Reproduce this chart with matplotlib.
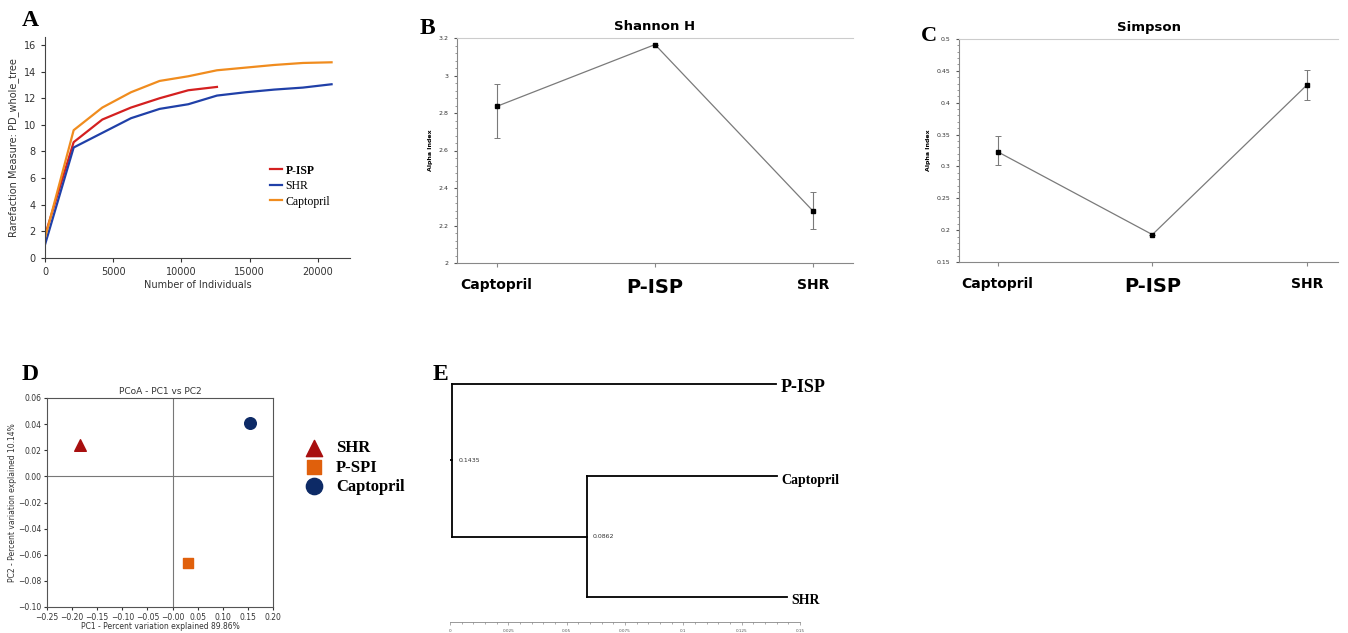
import numpy as np
import matplotlib
matplotlib.use("Agg")
import matplotlib.pyplot as plt
from matplotlib.ticker import MultipleLocator, AutoMinorLocator, FuncFormatter

W, H = 1348, 633

# ----------------- DATA -----------------
# A: rarefaction curves (PD_whole_tree)
rare_x_long = [0, 2100, 4200, 6300, 8400, 10500, 12600, 14700, 16800, 18900, 21000]
rare_x_pisp = [0, 2100, 4200, 6300, 8400, 10500, 12600]
rare_captopril = [1.5, 9.6, 11.3, 12.45, 13.3, 13.65, 14.1, 14.3, 14.5, 14.65, 14.7]
rare_pisp = [1.7, 8.7, 10.4, 11.3, 12.0, 12.6, 12.85]
rare_shr = [1.0, 8.3, 9.4, 10.5, 11.2, 11.55, 12.2, 12.45, 12.65, 12.8, 13.05]

# B / C: alpha diversity
groups = ["Captopril", "P-ISP", "SHR"]
shannon = [2.835, 3.165, 2.275]
shannon_lo = [2.665, 3.165, 2.18]
shannon_hi = [2.955, 3.165, 2.38]
simpson = [0.323, 0.193, 0.428]
simpson_lo = [0.302, 0.193, 0.405]
simpson_hi = [0.347, 0.193, 0.451]

# D: PCoA
pcoa_labels = ["SHR", "P-SPI", "Captopril"]
pc1 = [-0.185, 0.03, 0.155]
pc2 = [0.024, -0.066, 0.041]

# E: dendrogram (x = distance, y = leaf order)
leaves = ["P-ISP", "Captopril", "SHR"]
leaf_x = [0.1395, 0.1400, 0.1444]
leaf_y = [3.0, 1.7, 0.0]
node_x = 0.0587
root_x = 0.0010
root_label = "0.1435"
node_label = "0.0862"


def px(l, t, r, b):
    return [l / W, 1 - b / H, (r - l) / W, (b - t) / H]


fig = plt.figure(figsize=(W / 100, H / 100), dpi=100)
serif = "Liberation Serif"
gfmt = FuncFormatter(lambda v, p: "%g" % round(v, 4))
mfmt = FuncFormatter(lambda v, p: ("%.2f" % v).replace("-", "\u2212"))

# ----------------- A -----------------
axA = fig.add_axes(px(45, 37, 350, 258))
axA.plot(rare_x_pisp, rare_pisp, color="#d42020", lw=1.6, label="P-ISP")
axA.plot(rare_x_long, rare_shr, color="#2040a8", lw=1.6, label="SHR")
axA.plot(rare_x_long, rare_captopril, color="#f08c1e", lw=1.6, label="Captopril")
axA.set_xlim(0, 22350)
axA.set_ylim(0, 16.6)
axA.set_yticks(range(0, 17, 2))
axA.set_xticks([0, 5000, 10000, 15000, 20000])
for s in ["top", "right"]:
    axA.spines[s].set_visible(False)
for s in ["left", "bottom"]:
    axA.spines[s].set_color("#444444")
axA.tick_params(labelsize=7, colors="#333333", length=3)
axA.set_xlabel("Number of Individuals", fontsize=7, color="#333333", labelpad=2)
axA.set_ylabel("Rarefaction Measure: PD_whole_tree", fontsize=7, color="#333333", labelpad=3)
legA = axA.legend(loc="lower right", bbox_to_anchor=(0.97, 0.18), frameon=False,
                  prop={"family": serif, "size": 8.5}, handlelength=1.0,
                  handletextpad=0.3, labelspacing=0.3)
legA.get_texts()[0].set_fontweight("bold")
fig.text(22 / W, 1 - 20 / H, "A", fontsize=17, fontweight="bold", family=serif, va="center")


# ----------------- B / C -----------------
def alpha_panel(box, vals, lo, hi, ylim, step, title, xr):
    ax = fig.add_axes(px(*box))
    x = np.arange(len(groups))
    yerr = [np.array(vals) - np.array(lo), np.array(hi) - np.array(vals)]
    ax.errorbar(x, vals, yerr=yerr, color="#7a7a7a", lw=0.9, ecolor="#7a7a7a",
                elinewidth=0.8, capsize=2, capthick=0.7, marker="s", ms=3.5,
                mfc="black", mec="black")
    ax.set_xlim(-0.25, xr)
    ax.set_ylim(*ylim)
    ax.yaxis.set_major_locator(MultipleLocator(step))
    ax.yaxis.set_minor_locator(AutoMinorLocator(5))
    ax.yaxis.set_major_formatter(gfmt)
    ax.set_xticks(x)
    ax.set_xticklabels(groups)
    ax.spines["right"].set_visible(False)
    ax.spines["top"].set_color("#cccccc")
    ax.spines["left"].set_color("#888888")
    ax.spines["bottom"].set_color("#888888")
    ax.tick_params(axis="y", labelsize=4.5, length=2.5, colors="#555555", labelcolor="#333333")
    ax.tick_params(axis="y", which="minor", length=1.5, colors="#888888")
    ax.tick_params(axis="x", length=3, colors="#888888", labelcolor="black", pad=8)
    labs = ax.get_xticklabels()
    for t in labs:
        t.set_fontweight("bold")
        t.set_fontsize(10)
    labs[1].set_fontsize(14)
    ax.set_ylabel("Alpha Index", fontsize=4.5, fontweight="bold", labelpad=4)
    ax.set_title(title, fontsize=9.5, fontweight="bold", pad=6)
    return ax


axB = alpha_panel((457, 38, 853, 263), shannon, shannon_lo, shannon_hi, (2.0, 3.2), 0.2,
                  "Shannon H", 2.25)
axC = alpha_panel((959, 39, 1338, 262), simpson, simpson_lo, simpson_hi, (0.15, 0.5), 0.05,
                  "Simpson", 2.2)
fig.text(420 / W, 1 - 28 / H, "B", fontsize=17, fontweight="bold", family=serif, va="center")
fig.text(921 / W, 1 - 36 / H, "C", fontsize=16, fontweight="bold", family=serif, va="center")

# ----------------- D -----------------
axD = fig.add_axes(px(47, 398, 273, 607))
colorsD = ["#a80f0f", "#e0600c", "#0d2a66"]
markersD = ["^", "s", "o"]
for lab, x, y, c, m in zip(pcoa_labels, pc1, pc2, colorsD, markersD):
    axD.scatter([x], [y], color=c, marker=m, s=70 if m != "s" else 45, label=lab, zorder=3)
axD.axhline(0, color="#777777", lw=0.8)
axD.axvline(0, color="#777777", lw=0.8)
axD.set_xlim(-0.25, 0.2)
axD.set_ylim(-0.10, 0.06)
axD.set_xticks(np.arange(-0.25, 0.21, 0.05))
axD.set_yticks(np.arange(-0.10, 0.061, 0.02))
axD.xaxis.set_major_formatter(mfmt)
axD.yaxis.set_major_formatter(mfmt)
for s in axD.spines.values():
    s.set_color("#555555")
axD.tick_params(labelsize=5.5, colors="#333333", length=2.5, pad=1.5)
axD.set_title("PCoA - PC1 vs PC2", fontsize=6.5, color="#333333", pad=3)
axD.set_xlabel("PC1 - Percent variation explained 89.86%", fontsize=5.5, color="#333333", labelpad=0.5)
axD.set_ylabel("PC2 - Percent variation explained 10.14%", fontsize=5.5, color="#333333", labelpad=1)
axD.legend(loc="upper left", bbox_to_anchor=(1.08, 0.83), frameon=False,
           prop={"family": serif, "size": 12, "weight": "bold"}, markerscale=1.4,
           handletextpad=0.3, labelspacing=0.2, scatterpoints=1, borderaxespad=0)
fig.text(22 / W, 1 - 375 / H, "D", fontsize=17, fontweight="bold", family=serif, va="center")

# ----------------- E -----------------
axE = fig.add_axes(px(450, 375, 800, 622))
kw = dict(color="black", lw=1.3, solid_capstyle="projecting")
# root vertical + branches
axE.plot([root_x, root_x], [leaf_y[0], 0.85], **kw)
axE.plot([root_x, leaf_x[0]], [leaf_y[0], leaf_y[0]], **kw)
axE.plot([root_x, node_x], [0.85, 0.85], **kw)
axE.plot([node_x, node_x], [leaf_y[1], leaf_y[2]], **kw)
axE.plot([node_x, leaf_x[1]], [leaf_y[1], leaf_y[1]], **kw)
axE.plot([node_x, leaf_x[2]], [leaf_y[2], leaf_y[2]], **kw)
axE.plot([root_x - 0.0012, root_x], [1.93, 1.93], **kw)
axE.text(root_x + 0.0025, 1.93, root_label, fontsize=4.5, va="center", color="#333333")
axE.text(node_x + 0.0025, 0.85, node_label, fontsize=4.5, va="center", color="#333333")
leaf_sizes = [13, 10, 10]
for name, x, y, fs in zip(leaves, leaf_x, leaf_y, leaf_sizes):
    axE.text(x + 0.002, y - 0.05, name, fontsize=fs, fontweight="bold", family=serif,
             va="center", ha="left")
axE.set_xlim(0, 0.15)
axE.set_ylim(-0.35, 3.13)
for s in ["top", "right", "left"]:
    axE.spines[s].set_visible(False)
axE.spines["bottom"].set_color("#888888")
axE.spines["bottom"].set_linewidth(0.6)
axE.set_yticks([])
axE.set_xticks([0, 0.025, 0.05, 0.075, 0.1, 0.125, 0.15])
axE.set_xticklabels(["0", "0.025", "0.05", "0.075", "0.1", "0.125", "0.15"])
axE.xaxis.set_minor_locator(MultipleLocator(0.005))
axE.tick_params(axis="x", labelsize=3, length=2, width=0.5, colors="#888888",
                labelcolor="#555555", pad=3)
axE.tick_params(axis="x", which="minor", length=1.2, width=0.5, colors="#888888")
fig.text(433 / W, 1 - 375 / H, "E", fontsize=17, fontweight="bold", family=serif, va="center")

fig.savefig("out.png", dpi=100, facecolor="white")
